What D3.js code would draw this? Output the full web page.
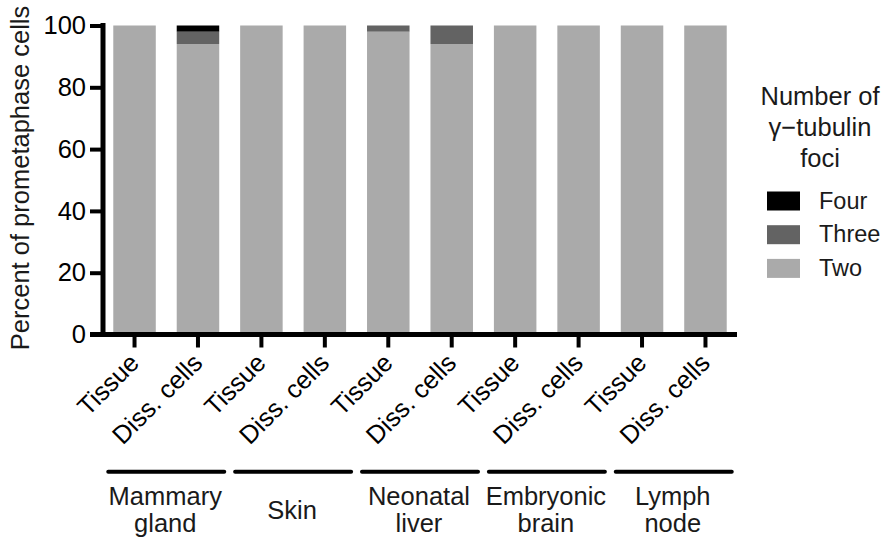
<!DOCTYPE html>
<html>
<head>
<meta charset="utf-8">
<script src="https://cdn.jsdelivr.net/npm/d3@7"></script>
<style>
  html, body { margin: 0; padding: 0; background: #fff; }
  svg { display: block; font-family: "Liberation Sans", Arial, Helvetica, sans-serif; }
</style>
</head>
<body>
<svg id="chart" width="887" height="546"></svg>
<script>
// ---- Data ----
const categories = ["Tissue", "Diss. cells", "Tissue", "Diss. cells", "Tissue", "Diss. cells", "Tissue", "Diss. cells", "Tissue", "Diss. cells"];
const groups = [["Mammary", "gland"], ["Skin"], ["Neonatal", "liver"], ["Embryonic", "brain"], ["Lymph", "node"]];
const two   = [100, 94, 100, 100, 98, 94, 100, 100, 100, 100];
const three = [0, 4, 0, 0, 2, 6, 0, 0, 0, 0];
const four  = [0, 2, 0, 0, 0, 0, 0, 0, 0, 0];
const seriesNames = ["Two", "Three", "Four"];
const seriesColors = ["#aaaaaa", "#636363", "#000000"];
const yTicks = [0, 20, 40, 60, 80, 100];
const yLabel = "Percent of prometaphase cells";
const legendTitle = ["Number of", "\u03b3\u2212tubulin", "foci"];

// ---- Layout ----
const svg = d3.select("#chart");
const fontSize = 25.5;
const legendFont = 23.5;
const textColor = "#1a1a1a";
const ff = "Liberation Sans, Arial, sans-serif";

const x = d3.scaleBand()
  .domain(d3.range(categories.length))
  .range([103, 737])
  .paddingInner(0.33)
  .paddingOuter(0.162);

const y = d3.scaleLinear().domain([0, 100]).range([334.5, 25.5]);

const rows = categories.map((c, i) => ({ i, Two: two[i], Three: three[i], Four: four[i] }));
const stack = d3.stack().keys(seriesNames)(rows);

// bars
svg.append("g").selectAll("g")
  .data(stack).join("g")
  .attr("fill", (d, k) => seriesColors[k])
  .selectAll("rect")
  .data(d => d).join("rect")
  .attr("x", d => x(d.data.i))
  .attr("width", x.bandwidth())
  .attr("y", d => y(d[1]))
  .attr("height", d => Math.max(0, y(d[0]) - y(d[1])));

// y axis
const yAxis = svg.append("g")
  .attr("transform", "translate(103,0)")
  .call(d3.axisLeft(y).tickValues(yTicks).tickSize(13).tickPadding(4).tickSizeOuter(0));
yAxis.attr("font-size", fontSize).attr("font-family", ff);
yAxis.select(".domain").remove();
yAxis.append("line").attr("x1", 0).attr("x2", 0).attr("y1", y(100) - 2.5).attr("y2", y(0) + 2.5)
  .attr("stroke", "#000").attr("stroke-width", 5);
yAxis.selectAll(".tick line").attr("stroke", "#000").attr("stroke-width", 4);
yAxis.selectAll(".tick text").attr("font-size", fontSize).attr("fill", "#000");

// x axis
const xAxis = svg.append("g")
  .attr("transform", `translate(0,${y(0)})`)
  .call(d3.axisBottom(x).tickSize(13).tickSizeOuter(0).tickFormat(i => categories[i]));
xAxis.attr("font-size", fontSize).attr("font-family", ff);
xAxis.select(".domain").remove();
xAxis.append("line").attr("x1", 90).attr("x2", 737).attr("y1", 0).attr("y2", 0)
  .attr("stroke", "#000").attr("stroke-width", 5);
xAxis.selectAll(".tick line").attr("stroke", "#000").attr("stroke-width", 4);
xAxis.selectAll(".tick text")
  .attr("font-size", fontSize).attr("fill", "#000")
  .attr("text-anchor", "end")
  .attr("dy", null)
  .attr("y", null)
  .attr("transform", "translate(6,30) rotate(-45)");

// y label
svg.append("text")
  .attr("transform", `translate(29,178) rotate(-90)`)
  .attr("text-anchor", "middle")
  .attr("font-size", fontSize)
  .attr("fill", textColor)
  .text(yLabel);

// group lines and labels
groups.forEach((g, gi) => {
  const cx = (x(2 * gi) + x(2 * gi + 1) + x.bandwidth()) / 2;
  svg.append("line")
    .attr("x1", cx - 58).attr("x2", cx + 58)
    .attr("y1", 471.7).attr("y2", 471.7)
    .attr("stroke", "#000").attr("stroke-width", 4).attr("stroke-linecap", "round");
  const baselines = g.length === 2 ? [505, 532] : [519];
  g.forEach((line, li) => {
    svg.append("text")
      .attr("x", cx - 1).attr("y", baselines[li])
      .attr("text-anchor", "middle")
      .attr("font-size", fontSize)
      .attr("fill", textColor)
      .text(line);
  });
});

// legend
const lg = svg.append("g");
legendTitle.forEach((t, i) => {
  lg.append("text")
    .attr("x", 820).attr("y", 105 + i * 31)
    .attr("text-anchor", "middle")
    .attr("font-size", fontSize)
    .attr("fill", textColor)
    .text(t);
});
const legendOrder = [2, 1, 0];
legendOrder.forEach((k, j) => {
  const cy = 201 + j * 33.7;
  lg.append("rect")
    .attr("x", 767).attr("y", cy - 9.5)
    .attr("width", 33).attr("height", 19)
    .attr("fill", seriesColors[k]);
  lg.append("text")
    .attr("x", 819).attr("y", cy + 7.5)
    .attr("font-size", legendFont)
    .attr("fill", textColor)
    .text(seriesNames[k]);
});
</script>
</body>
</html>
